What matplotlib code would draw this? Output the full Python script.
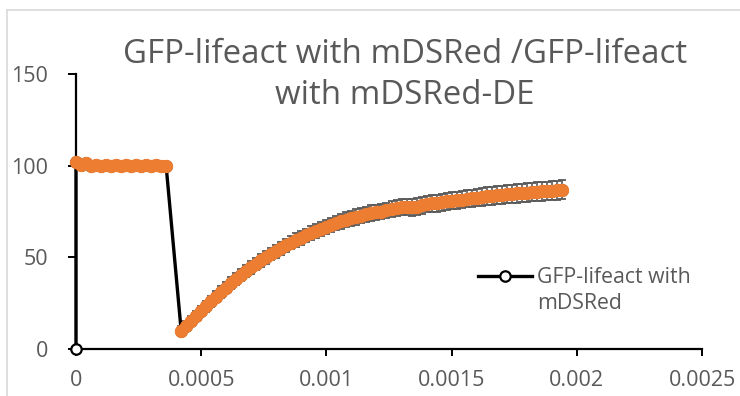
import numpy as np
import matplotlib
matplotlib.use("Agg")
import matplotlib.pyplot as plt
from matplotlib.lines import Line2D

# ---------------- data ----------------
title = "GFP-lifeact with mDSRed /GFP-lifeact\nwith mDSRed-DE"
series_name = "GFP-lifeact with\nmDSRed"

time_step = 0.00002
baseline_start = 0.0
recovery_start = 0.00042

baseline_values = [101.8, 100.5, 101.2, 99.8, 100.3, 99.6, 100.1, 99.9, 100.4, 99.7,
                   100.2, 100.0, 100.6, 99.8, 100.1, 99.9, 100.3, 100.0, 99.8]
baseline_err = [0.8, 0.7, 0.8, 0.7, 0.8, 0.7, 0.8, 0.7, 0.8, 0.7,
                0.8, 0.7, 0.8, 0.7, 0.8, 0.7, 0.8, 0.7, 0.8]

recovery_values = [10.0, 12.8, 15.5, 18.2, 20.8, 23.4, 26.0, 28.6, 31.1, 33.5,
                   35.9, 38.2, 40.4, 42.5, 44.5, 46.4, 48.3, 50.1, 51.8, 53.4,
                   55.0, 56.5, 58.0, 59.4, 60.7, 62.0, 63.3, 64.5, 65.6, 66.7,
                   67.8, 68.7, 69.6, 70.5, 71.3, 72.0, 72.8, 73.5, 74.1, 74.6,
                   75.0, 75.6, 76.3, 77.0, 77.5, 77.3, 77.2, 77.6, 78.3, 79.0,
                   79.4, 79.6, 80.0, 80.5, 80.9, 81.2, 81.5, 81.9, 82.2, 82.6,
                   83.0, 83.3, 83.6, 83.8, 84.1, 84.4, 84.6, 84.9, 85.1, 85.3,
                   85.6, 85.8, 86.0, 86.2, 86.4, 86.6, 86.8]
recovery_err = [2.5, 2.6, 2.7, 2.8, 2.9, 3.0, 3.0, 3.1, 3.1, 3.2,
                3.2, 3.3, 3.3, 3.3, 3.4, 3.4, 3.4, 3.5, 3.5, 3.5,
                3.6, 3.6, 3.6, 3.7, 3.7, 3.7, 3.8, 3.8, 3.8, 3.9,
                3.9, 3.9, 4.0, 4.0, 4.0, 4.1, 4.1, 4.1, 4.2, 4.2,
                4.2, 4.3, 4.3, 4.3, 4.4, 4.4, 4.4, 4.5, 4.5, 4.5,
                4.6, 4.6, 4.6, 4.6, 4.7, 4.7, 4.7, 4.7, 4.8, 4.8,
                4.8, 4.8, 4.9, 4.9, 4.9, 4.9, 5.0, 5.0, 5.0, 5.0,
                5.0, 5.1, 5.1, 5.1, 5.1, 5.2, 5.2]

origin_x = [0.0]
origin_y = [0.0]

x_ticks = [0, 0.0005, 0.001, 0.0015, 0.002, 0.0025]
x_ticklabels = ["0", "0.0005", "0.001", "0.0015", "0.002", "0.0025"]
y_ticks = [0, 50, 100, 150]

# ---------------- build ----------------
bx = baseline_start + time_step * np.arange(len(baseline_values))
rx = recovery_start + time_step * np.arange(len(recovery_values))
all_x = np.concatenate([origin_x, bx, rx])
all_y = np.concatenate([origin_y, baseline_values, recovery_values])
data_x = np.concatenate([bx, rx])
data_y = np.concatenate([baseline_values, recovery_values])
data_e = np.concatenate([baseline_err, recovery_err])

FONT = "Open Sans"
GRAY = "#595959"
ORANGE = "#ED7D31"

fig = plt.figure(figsize=(7.4, 3.96), dpi=100)
ax = fig.add_axes([76 / 740, 47 / 396, 626 / 740, 275 / 396])

# black series (line + white markers)
ax.plot(all_x, all_y, color="black", lw=2.4, marker="o", ms=7.5,
        mfc="white", mec="black", mew=1.6, zorder=3, clip_on=False,
        solid_capstyle="butt")
# error bars
eb = ax.errorbar(data_x, data_y, yerr=data_e, fmt="none", ecolor=GRAY,
                 elinewidth=1.2, capsize=3.0, capthick=1.3, zorder=4)
for art in eb.lines[1] + eb.lines[2]:
    art.set_clip_on(False)
# orange markers
ax.plot(data_x, data_y, ls="none", marker="o", ms=8.6, mfc=ORANGE,
        mec=ORANGE, zorder=5, clip_on=False)

ax.set_xlim(0, 0.0025)
ax.set_ylim(0, 150)
ax.set_xticks(x_ticks)
ax.set_xticklabels(x_ticklabels)
ax.set_yticks(y_ticks)

for side in ["top", "right"]:
    ax.spines[side].set_visible(False)
for side in ["left", "bottom"]:
    ax.spines[side].set_linewidth(1.6)
    ax.spines[side].set_color("black")
ax.spines["left"].set_zorder(2)

ax.tick_params(axis="x", direction="out", length=5, width=1.4, pad=10,
               labelsize=15.5, labelcolor=GRAY)
ax.tick_params(axis="y", direction="out", length=6, width=1.4, pad=14,
               labelsize=15.5, labelcolor=GRAY)
for lab in ax.get_xticklabels() + ax.get_yticklabels():
    lab.set_fontfamily(FONT)

fig.text(405 / 740, 1 - 75 / 396, title, ha="center", va="center",
         fontsize=23.8, color=GRAY, family=FONT, linespacing=1.33)

# legend (handle aligned with first text line, as in the reference)
leg_y = 1 - 276 / 396
fig.add_artist(Line2D([478 / 740, 532 / 740], [leg_y, leg_y],
                      transform=fig.transFigure, color="black", lw=2.4))
fig.add_artist(Line2D([505 / 740], [leg_y], transform=fig.transFigure,
                      ls="none", marker="o", ms=7.5, mfc="white",
                      mec="black", mew=1.6))
fig.text(537 / 740, 1 - 290.5 / 396, series_name, ha="left", va="center",
         fontsize=15.3, color=GRAY, family=FONT, linespacing=1.3)

# chart area border (partially visible)
fig.add_artist(Line2D([7 / 740, 1], [1 - 10 / 396, 1 - 10 / 396],
                      transform=fig.transFigure, color="#D9D9D9", lw=1.2))
fig.add_artist(Line2D([7 / 740, 7 / 740], [0, 1 - 10 / 396],
                      transform=fig.transFigure, color="#D9D9D9", lw=1.2))

fig.savefig("out.png", dpi=100)
